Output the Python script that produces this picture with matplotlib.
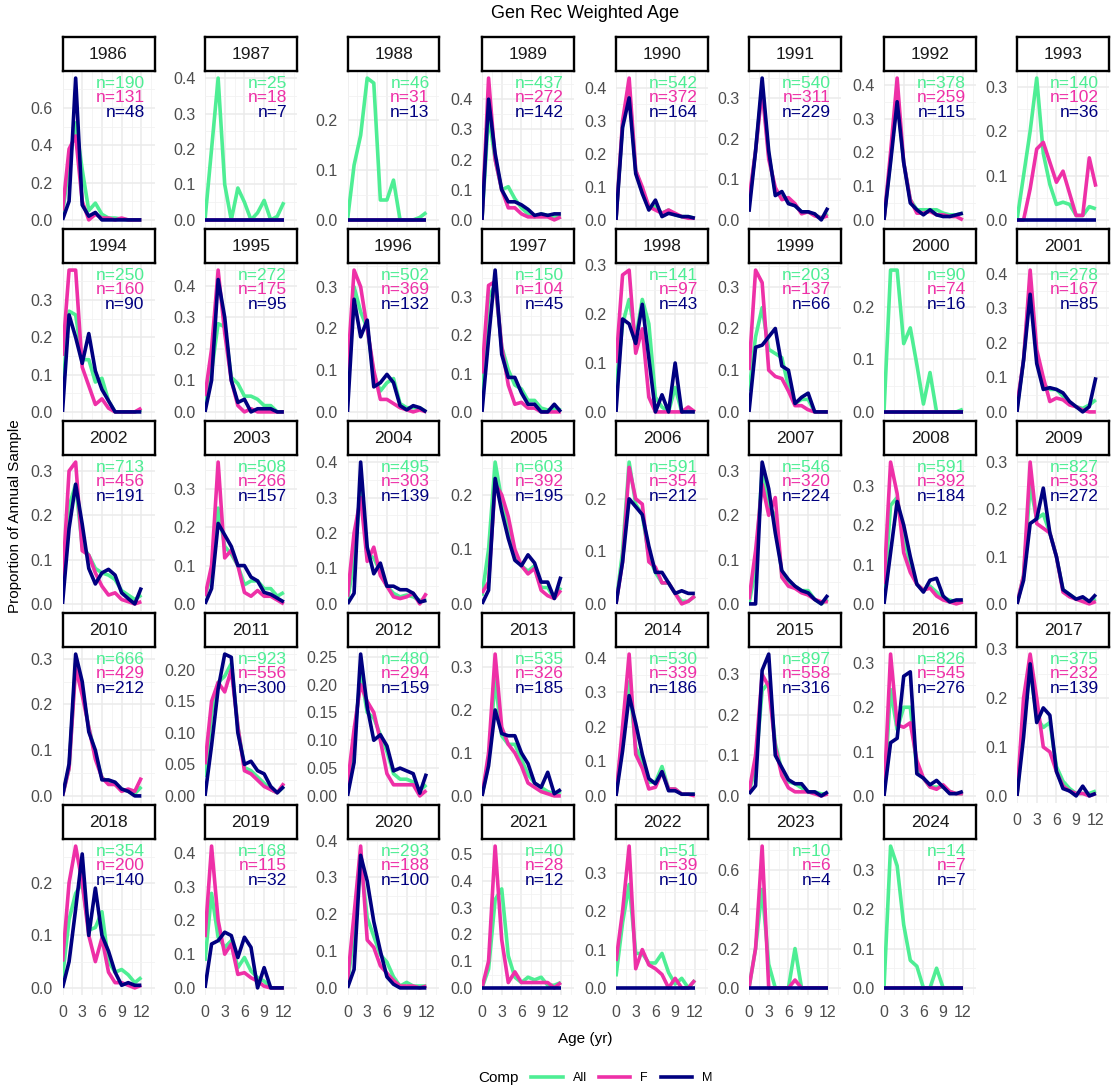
import numpy as np
import matplotlib
matplotlib.use('Agg')
import matplotlib.pyplot as plt
import matplotlib.transforms as mtransforms
from matplotlib.lines import Line2D

plt.rcParams['font.family'] = ['Liberation Sans', 'DejaVu Sans']

# ---- data ----
years = list(range(1986, 2025))
ages = list(range(0, 13))

n_all = [190, 25, 46, 437, 542, 540, 378, 140, 250, 272, 502, 150, 141, 203, 90, 278,
         713, 508, 495, 603, 591, 546, 591, 827, 666, 923, 480, 535, 530, 897, 826, 375,
         354, 168, 293, 40, 51, 10, 14]
n_f = [131, 18, 31, 272, 372, 311, 259, 102, 160, 175, 369, 104, 97, 137, 74, 167,
       456, 266, 303, 392, 354, 320, 392, 533, 429, 556, 294, 326, 339, 558, 545, 232,
       200, 115, 188, 28, 39, 6, 7]
n_m = [48, 7, 13, 142, 164, 229, 115, 36, 90, 95, 132, 45, 43, 66, 16, 85,
       191, 157, 139, 195, 212, 224, 184, 272, 212, 300, 159, 185, 186, 316, 276, 139,
       140, 32, 100, 12, 10, 4, 7]

all_props = [
    [0.03, 0.30, 0.52, 0.27, 0.05, 0.09, 0.03, 0.01, 0.01, 0.005, 0, 0, 0],          # 1986
    [0, 0.20, 0.40, 0.10, 0, 0.09, 0.05, 0, 0.02, 0.055, 0, 0.01, 0.05],             # 1987
    [0, 0.11, 0.17, 0.285, 0.275, 0.04, 0.04, 0.08, 0, 0, 0, 0.005, 0.015],          # 1988
    [0, 0.35, 0.20, 0.10, 0.11, 0.07, 0.04, 0.02, 0.01, 0.02, 0.015, 0.01, 0.01],    # 1989
    [0, 0.29, 0.40, 0.15, 0.09, 0.04, 0.04, 0.02, 0.03, 0.015, 0.01, 0.01, 0.005],   # 1990
    [0.04, 0.17, 0.33, 0.16, 0.07, 0.055, 0.05, 0.035, 0.02, 0.02, 0.012, 0.005, 0.015],
    [0, 0.18, 0.37, 0.17, 0.06, 0.03, 0.03, 0.03, 0.03, 0.02, 0.015, 0.015, 0.02],   # 1992
    [0, 0.10, 0.20, 0.32, 0.15, 0.08, 0.035, 0.04, 0.035, 0.01, 0.01, 0.03, 0.025],  # 1993
    [0.05, 0.27, 0.26, 0.14, 0.14, 0.08, 0.09, 0.03, 0, 0, 0, 0, 0.005],             # 1994
    [0.02, 0.13, 0.28, 0.27, 0.11, 0.09, 0.05, 0.05, 0.04, 0.02, 0.02, 0, 0],        # 1995
    [0.05, 0.30, 0.24, 0.20, 0.09, 0.05, 0.07, 0.08, 0.02, 0.01, 0.01, 0.01, 0],     # 1996
    [0.05, 0.30, 0.33, 0.17, 0.11, 0.07, 0.06, 0.03, 0.03, 0.01, 0.005, 0.01, 0.005],
    [0.05, 0.18, 0.23, 0.15, 0.23, 0.18, 0.03, 0.01, 0, 0.05, 0, 0.005, 0],          # 1998
    [0.05, 0.18, 0.25, 0.15, 0.14, 0.13, 0.06, 0.02, 0.03, 0.03, 0, 0, 0],           # 1999
    [0, 0.27, 0.27, 0.13, 0.16, 0.09, 0.015, 0.075, 0, 0, 0, 0, 0.005],              # 2000
    [0.01, 0.15, 0.38, 0.16, 0.08, 0.065, 0.065, 0.045, 0.025, 0.015, 0.01, 0.02, 0.035],
    [0.03, 0.22, 0.27, 0.13, 0.11, 0.08, 0.07, 0.065, 0.055, 0.03, 0.02, 0.01, 0.02],  # 2002
    [0.02, 0.08, 0.25, 0.15, 0.13, 0.10, 0.05, 0.06, 0.06, 0.04, 0.04, 0.02, 0.03],  # 2003
    [0.01, 0.12, 0.32, 0.14, 0.13, 0.09, 0.05, 0.03, 0.02, 0.025, 0.02, 0.01, 0.01],  # 2004
    [0.015, 0.10, 0.26, 0.19, 0.14, 0.09, 0.07, 0.06, 0.07, 0.03, 0.03, 0.01, 0.03],  # 2005
    [0, 0.10, 0.27, 0.19, 0.17, 0.09, 0.06, 0.04, 0.04, 0.02, 0.005, 0.005, 0.015],  # 2006
    [0, 0.08, 0.30, 0.22, 0.20, 0.065, 0.05, 0.04, 0.03, 0.03, 0.01, 0, 0.01],       # 2007
    [0.02, 0.25, 0.27, 0.17, 0.10, 0.05, 0.035, 0.045, 0.03, 0.015, 0.01, 0.005, 0.01],
    [0, 0.06, 0.25, 0.18, 0.19, 0.15, 0.10, 0.03, 0.02, 0.01, 0.01, 0.005, 0.01],    # 2009
    [0, 0.06, 0.29, 0.23, 0.15, 0.09, 0.04, 0.03, 0.025, 0.015, 0.01, 0.005, 0.02],  # 2010
    [0.03, 0.13, 0.18, 0.19, 0.21, 0.11, 0.045, 0.04, 0.03, 0.02, 0.01, 0.005, 0.015],
    [0.01, 0.10, 0.22, 0.15, 0.14, 0.11, 0.08, 0.04, 0.03, 0.03, 0.025, 0.01, 0.02],  # 2012
    [0, 0.08, 0.27, 0.14, 0.12, 0.12, 0.085, 0.05, 0.03, 0.02, 0.01, 0.005, 0.01],   # 2013
    [0, 0.17, 0.33, 0.14, 0.10, 0.04, 0.04, 0.085, 0.02, 0.02, 0.005, 0.005, 0.005],  # 2014
    [0.01, 0.07, 0.26, 0.28, 0.13, 0.06, 0.035, 0.03, 0.02, 0.01, 0.01, 0.005, 0.005],
    [0, 0.24, 0.15, 0.20, 0.20, 0.06, 0.04, 0.02, 0.02, 0.02, 0.01, 0.005, 0.005],   # 2016
    [0, 0.15, 0.26, 0.16, 0.14, 0.15, 0.06, 0.03, 0.015, 0.005, 0.005, 0.005, 0.01],  # 2017
    [0.02, 0.13, 0.18, 0.20, 0.11, 0.115, 0.145, 0.05, 0.03, 0.035, 0.025, 0.01, 0.02],
    [0.08, 0.28, 0.15, 0.12, 0.14, 0.06, 0.09, 0.05, 0.03, 0.02, 0, 0, 0],           # 2019
    [0.01, 0.15, 0.35, 0.19, 0.14, 0.09, 0.07, 0.03, 0.005, 0.015, 0.005, 0.005, 0.005],
    [0, 0.07, 0.33, 0.37, 0.12, 0.04, 0.02, 0.04, 0.03, 0.04, 0.01, 0.01, 0.02],     # 2021
    [0.03, 0.17, 0.27, 0.09, 0.09, 0.065, 0.065, 0.09, 0.04, 0.01, 0.025, 0, 0.02],  # 2022
    [0, 0.20, 0.50, 0.12, 0, 0, 0, 0.20, 0, 0, 0, 0, 0],                             # 2023
    [0, 0.36, 0.31, 0.16, 0.07, 0.055, 0, 0, 0.05, 0, 0, 0, 0],                      # 2024
]

zeros = [0] * 13

f_props = [
    [0.05, 0.38, 0.45, 0.10, 0, 0.03, 0.01, 0.01, 0, 0.01, 0, 0, 0],                 # 1986
    zeros,                                                                           # 1987
    zeros,                                                                           # 1988
    [0, 0.47, 0.20, 0.10, 0.04, 0.04, 0.02, 0.01, 0.01, 0.01, 0.01, 0, 0.01],         # 1989
    [0, 0.30, 0.43, 0.15, 0.10, 0.04, 0.03, 0.02, 0.03, 0.02, 0.01, 0.005, 0.005],   # 1990
    [0.05, 0.17, 0.32, 0.15, 0.08, 0.05, 0.055, 0.04, 0.015, 0.02, 0.01, 0.005, 0.01],
    [0, 0.20, 0.42, 0.17, 0.06, 0.02, 0.02, 0.025, 0.015, 0.015, 0.01, 0.01, 0],     # 1992
    [0, 0, 0.07, 0.16, 0.175, 0.13, 0.085, 0.11, 0.06, 0.01, 0.01, 0.14, 0.075],     # 1993
    [0.15, 0.38, 0.38, 0.12, 0.07, 0.02, 0.035, 0.01, 0, 0, 0, 0, 0.01],             # 1994
    [0.05, 0.20, 0.45, 0.25, 0.10, 0.02, 0, 0.01, 0, 0, 0, 0, 0],                    # 1995
    [0.10, 0.34, 0.30, 0.20, 0.10, 0.03, 0.03, 0.02, 0.01, 0.005, 0, 0.005, 0],      # 1996
    [0.10, 0.33, 0.34, 0.17, 0.07, 0.02, 0.025, 0.01, 0.01, 0, 0, 0, 0],             # 1997
    [0.10, 0.28, 0.29, 0.12, 0.17, 0.03, 0, 0, 0, 0, 0, 0.01, 0],                    # 1998
    [0.10, 0.34, 0.31, 0.10, 0.085, 0.08, 0.05, 0.015, 0.015, 0.005, 0, 0, 0],       # 1999
    zeros,                                                                           # 2000
    [0.02, 0.15, 0.41, 0.18, 0.10, 0.03, 0.04, 0.035, 0.02, 0.015, 0.005, 0, 0],     # 2001
    [0.05, 0.30, 0.32, 0.12, 0.11, 0.07, 0.04, 0.02, 0.025, 0.01, 0.005, 0, 0.005],  # 2002
    [0.02, 0.10, 0.37, 0.12, 0.14, 0.10, 0.03, 0.02, 0.035, 0.02, 0.02, 0.01, 0],    # 2003
    [0.02, 0.20, 0.30, 0.12, 0.16, 0.08, 0.05, 0.02, 0.015, 0.02, 0.03, 0, 0.03],    # 2004
    [0.02, 0.04, 0.22, 0.20, 0.16, 0.10, 0.07, 0.055, 0.065, 0.025, 0.015, 0.01, 0.025],
    [0, 0.08, 0.26, 0.20, 0.19, 0.08, 0.07, 0.04, 0.04, 0.02, 0, 0.005, 0.015],      # 2006
    [0.01, 0.12, 0.27, 0.20, 0.24, 0.06, 0.04, 0.035, 0.025, 0.02, 0.01, 0.005, 0.005],
    [0.05, 0.36, 0.28, 0.13, 0.08, 0.05, 0.035, 0.04, 0.02, 0.01, 0.005, 0, 0.005],  # 2008
    [0, 0.06, 0.30, 0.17, 0.16, 0.15, 0.10, 0.025, 0.015, 0.01, 0.005, 0, 0.005],    # 2009
    [0, 0.06, 0.28, 0.22, 0.15, 0.08, 0.04, 0.025, 0.025, 0.01, 0.015, 0.01, 0.04],  # 2010
    [0.05, 0.15, 0.18, 0.165, 0.20, 0.11, 0.04, 0.035, 0.025, 0.015, 0.01, 0.005, 0.02],
    [0.02, 0.12, 0.20, 0.17, 0.15, 0.10, 0.04, 0.02, 0.02, 0.02, 0.02, 0, 0.01],     # 2012
    [0, 0.10, 0.33, 0.16, 0.12, 0.10, 0.07, 0.03, 0.02, 0.01, 0.005, 0, 0],          # 2013
    [0, 0.20, 0.41, 0.12, 0.08, 0.02, 0.025, 0.07, 0.02, 0.02, 0.005, 0.005, 0],     # 2014
    [0.01, 0.10, 0.30, 0.27, 0.12, 0.05, 0.02, 0.01, 0.01, 0.01, 0.005, 0, 0.005],   # 2015
    [0, 0.32, 0.16, 0.155, 0.165, 0.08, 0.04, 0.02, 0.015, 0.025, 0.01, 0.005, 0.005],
    [0, 0.20, 0.29, 0.20, 0.10, 0.09, 0.05, 0.02, 0.01, 0.005, 0.005, 0, 0.005],     # 2017
    [0.05, 0.20, 0.27, 0.20, 0.10, 0.05, 0.095, 0.03, 0.01, 0.01, 0.005, 0, 0.005],  # 2018
    [0.15, 0.42, 0.20, 0.10, 0.13, 0.04, 0.045, 0.03, 0.02, 0.005, 0, 0, 0],         # 2019
    [0.02, 0.20, 0.385, 0.13, 0.11, 0.06, 0.04, 0.02, 0.005, 0.005, 0.005, 0, 0.005],
    [0, 0.10, 0.53, 0.18, 0.02, 0.06, 0.02, 0.02, 0.02, 0.02, 0.02, 0, 0.02],        # 2021
    [0.07, 0.20, 0.37, 0.05, 0.10, 0.06, 0.05, 0.035, 0, 0.025, 0, 0, 0.02],         # 2022
    [0, 0.20, 0.72, 0, 0, 0, 0, 0.04, 0, 0, 0, 0, 0],                                # 2023
    zeros,                                                                           # 2024
]

m_props = [
    [0, 0.10, 0.76, 0.08, 0.02, 0.04, 0, 0, 0, 0, 0, 0, 0],                          # 1986
    zeros,                                                                           # 1987
    zeros,                                                                           # 1988
    [0, 0.40, 0.22, 0.10, 0.06, 0.06, 0.05, 0.035, 0.015, 0.02, 0.015, 0.02, 0.02],  # 1989
    [0, 0.28, 0.37, 0.14, 0.08, 0.03, 0.06, 0.01, 0.02, 0.015, 0.01, 0.01, 0.005],   # 1990
    [0.02, 0.17, 0.35, 0.17, 0.06, 0.07, 0.04, 0.035, 0.02, 0.02, 0.015, 0, 0.03],   # 1991
    [0, 0.17, 0.35, 0.17, 0.05, 0.03, 0.015, 0.03, 0.015, 0.01, 0.01, 0.015, 0.02],  # 1992
    zeros,                                                                           # 1993
    [0, 0.26, 0.20, 0.13, 0.21, 0.11, 0.06, 0.03, 0, 0, 0, 0, 0],                    # 1994
    [0, 0.10, 0.42, 0.30, 0.10, 0.03, 0.04, 0, 0.01, 0.01, 0.01, 0, 0],              # 1995
    [0, 0.27, 0.18, 0.22, 0.06, 0.07, 0.09, 0.07, 0.015, 0.005, 0.015, 0.01, 0],     # 1996
    [0, 0.19, 0.37, 0.15, 0.09, 0.09, 0.05, 0.02, 0.02, 0, 0, 0.02, 0],              # 1997
    [0, 0.19, 0.18, 0.14, 0.22, 0.11, 0, 0.035, 0, 0.10, 0, 0, 0],                   # 1998
    [0, 0.155, 0.16, 0.18, 0.20, 0.11, 0.10, 0.02, 0.035, 0.045, 0, 0, 0],           # 1999
    zeros,                                                                           # 2000
    [0, 0.15, 0.34, 0.14, 0.065, 0.07, 0.065, 0.055, 0.03, 0.015, 0, 0.015, 0.10],   # 2001
    [0, 0.17, 0.27, 0.18, 0.08, 0.045, 0.07, 0.078, 0.065, 0.025, 0.012, 0, 0.037],  # 2002
    [0, 0.04, 0.21, 0.18, 0.15, 0.10, 0.10, 0.07, 0.06, 0.03, 0.025, 0.015, 0.005],  # 2003
    [0, 0.03, 0.40, 0.16, 0.085, 0.115, 0.05, 0.05, 0.04, 0.04, 0.03, 0.005, 0.01],  # 2004
    [0, 0.025, 0.23, 0.17, 0.12, 0.08, 0.07, 0.09, 0.075, 0.04, 0.04, 0.01, 0.05],   # 2005
    [0, 0.08, 0.20, 0.185, 0.17, 0.11, 0.06, 0.06, 0.04, 0.02, 0.025, 0.02, 0.02],   # 2006
    [0, 0, 0.32, 0.26, 0.16, 0.075, 0.055, 0.04, 0.03, 0.025, 0.01, 0, 0.02],        # 2007
    [0, 0.13, 0.26, 0.20, 0.12, 0.05, 0.03, 0.06, 0.065, 0.02, 0.005, 0.01, 0.01],   # 2008
    [0, 0.05, 0.17, 0.18, 0.245, 0.15, 0.10, 0.03, 0.02, 0.01, 0.015, 0.005, 0.02],  # 2009
    [0, 0.07, 0.31, 0.25, 0.14, 0.10, 0.035, 0.035, 0.03, 0.015, 0.01, 0, 0],        # 2010
    [0, 0.08, 0.17, 0.225, 0.22, 0.10, 0.05, 0.055, 0.04, 0.035, 0.015, 0.005, 0.015],
    [0, 0.06, 0.255, 0.16, 0.10, 0.11, 0.09, 0.045, 0.05, 0.045, 0.04, 0.005, 0.04],  # 2012
    [0, 0.07, 0.20, 0.145, 0.14, 0.14, 0.10, 0.075, 0.03, 0.02, 0.055, 0.005, 0.015],
    [0, 0.13, 0.29, 0.21, 0.12, 0.05, 0.035, 0.07, 0.015, 0.015, 0.005, 0.005, 0.005],
    [0.005, 0.025, 0.31, 0.35, 0.10, 0.07, 0.04, 0.03, 0.03, 0.01, 0.01, 0, 0.01],   # 2015
    [0, 0.12, 0.13, 0.27, 0.28, 0.05, 0.04, 0.025, 0.035, 0.02, 0.005, 0.005, 0.01],  # 2016
    [0, 0.12, 0.27, 0.15, 0.18, 0.165, 0.05, 0.015, 0.01, 0, 0.02, 0, 0.005],        # 2017
    [0, 0.05, 0.15, 0.255, 0.10, 0.19, 0.10, 0.07, 0.03, 0.005, 0.01, 0.005, 0.005],  # 2018
    [0, 0.13, 0.14, 0.165, 0.155, 0.09, 0.15, 0.12, 0, 0.06, 0, 0, 0],               # 2019
    [0, 0.05, 0.36, 0.29, 0.18, 0.10, 0.03, 0.01, 0, 0, 0, 0, 0],                    # 2020
    zeros,                                                                           # 2021
    zeros,                                                                           # 2022
    zeros,                                                                           # 2023
    zeros,                                                                           # 2024
]

comp_labels = ['All', 'F', 'M']
comp_colors = ['#4EEE94', '#EE30A7', '#000080']

# y tick spacing that differs from the usual 0.1
tick_step = {1986: 0.2, 2023: 0.2, 2011: 0.05, 2012: 0.05}

# ---- layout (pixels) ----
W, H = 1111, 1090
fig = plt.figure(figsize=(W / 100, H / 100), dpi=100)

col_left = [62.5, 205, 347.5, 482, 616, 749, 884, 1017]
row_top = [71, 263, 455, 647, 839]
pan_w, pan_h, strip_h = 92, 156, 34
grey_txt = '#4D4D4D'


def fig_box(x, y, w, h):
    return [x / W, 1 - (y + h) / H, w / W, h / H]


for i, yr in enumerate(years):
    r, c = divmod(i, 8)
    x0, y0 = col_left[c], row_top[r]

    ax = fig.add_axes(fig_box(x0, y0, pan_w, pan_h))
    series = [all_props[i], f_props[i], m_props[i]]
    for vals, col in zip(series, comp_colors):
        ax.plot(ages, vals, color=col, lw=2.6, solid_joinstyle='round',
                solid_capstyle='butt', zorder=3)

    ymax = max(max(s) for s in series)
    ax.set_xlim(0, 14)
    ax.set_ylim(-0.05 * ymax, 1.05 * ymax)

    step = tick_step.get(yr, 0.1)
    yt = np.arange(0, 1.05 * ymax + 1e-9, step)
    ax.set_yticks(yt)
    ax.set_yticks(np.arange(step / 2, 1.05 * ymax, step), minor=True)
    fmt = '{:.2f}' if step < 0.1 else '{:.1f}'
    ax.set_yticklabels([fmt.format(v) for v in yt])
    ax.set_xticks([0, 3, 6, 9, 12])
    ax.set_xticks([1.5, 4.5, 7.5, 10.5, 13.5], minor=True)
    ax.grid(which='major', color='#EBEBEB', lw=1.1, zorder=0)
    ax.grid(which='minor', color='#F2F2F2', lw=0.6, zorder=0)
    ax.set_axisbelow(True)
    for sp in ax.spines.values():
        sp.set_visible(False)
    ax.tick_params(which='both', length=0, labelsize=11.5, labelcolor=grey_txt)
    ax.tick_params(axis='y', pad=7)
    ax.tick_params(axis='x', pad=7)
    if i + 8 < len(years):
        ax.set_xticklabels([])

    tr = mtransforms.blended_transform_factory(ax.transData, ax.transAxes)
    for k, (n, col) in enumerate(zip([n_all[i], n_f[i], n_m[i]], comp_colors)):
        ax.text(12.5, 0.92 - 0.092 * k, f'n={n}', transform=tr, ha='right',
                va='center', color=col, fontsize=12.5, zorder=4)

    sax = fig.add_axes(fig_box(x0, y0 - strip_h, pan_w, strip_h))
    sax.set_xticks([])
    sax.set_yticks([])
    for sp in sax.spines.values():
        sp.set_linewidth(1.7)
        sp.set_color('black')
    sax.text(0.5, 0.48, str(yr), ha='center', va='center', fontsize=12.5,
             color='#1A1A1A', transform=sax.transAxes)

fig.text(585 / W, 1 - 14 / H, 'Gen Rec Weighted Age', ha='center', va='center',
         fontsize=13)
fig.text(15 / W, 1 - 516 / H, 'Proportion of Annual Sample', ha='center',
         va='center', rotation=90, fontsize=11)
fig.text(585 / W, 1 - 1039 / H, 'Age (yr)', ha='center', va='center', fontsize=11)

# legend at the bottom
fig.text(478 / W, 1 - 1078 / H, 'Comp', ha='left', va='center', fontsize=11)
handles = [Line2D([], [], color=col, lw=2.6) for col in comp_colors]
fig.legend(handles, comp_labels, loc='center left',
           bbox_to_anchor=(520 / W, 1 - 1078 / H), ncol=3, frameon=False,
           fontsize=9, handlelength=2.5, handletextpad=0.8, columnspacing=1.0)

fig.savefig('out.png', dpi=100)
